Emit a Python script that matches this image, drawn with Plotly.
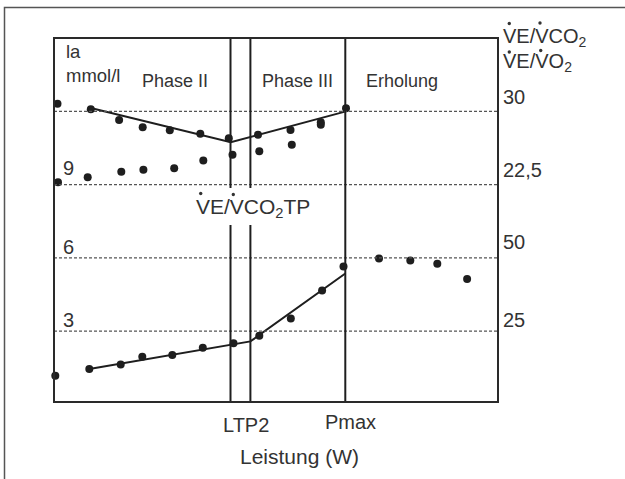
import plotly.graph_objects as go

# ---- data (x: Leistung, arbitrary W units; y: la mmol/l or VE/VCO2 scale) ----
la_x = [1.3, 35.3, 66.7, 88.3, 118.3, 148.8, 179.5, 205.3, 236.8, 268.1, 289.5, 325, 356.3, 383.3, 413.1]
la_y = [1.17, 1.45, 1.64, 1.95, 2.02, 2.32, 2.50, 2.81, 3.52, 4.66, 5.65, 5.97, 5.89, 5.76, 5.13]
la_fit_x = [35.3, 196.4, 291.3]
la_fit_y = [1.45, 2.58, 5.36]

vco2_x = [3.5, 36.8, 65.1, 88.7, 115.8, 146.3, 174.8, 204, 236.5, 266.8, 292]
vco2_y = [30.78, 30.20, 29.12, 28.36, 28.07, 27.69, 27.24, 27.60, 28.09, 28.89, 30.30]
vco2_fit_x = [36.8, 176.8, 292]
vco2_fit_y = [30.34, 26.83, 29.99]

vo2_x = [4, 33.7, 67.3, 89.4, 120.2, 149.3, 178.5, 205.3, 237.8, 266.8]
vo2_y = [22.73, 23.24, 23.82, 24.01, 24.17, 24.96, 25.56, 25.90, 26.57, 28.61]

grid_la = [3, 6, 9, 12]
left_labels = ["3", "6", "9"]
right_labels = ["30", "22,5", "50", "25"]
thresh_x = [176.5, 196.4, 291.3]   # VE/VCO2TP, LTP2, Pmax

XR = [0, 444]
YR = [0.1, 15.0]
Y2R = [0.25, 37.5]

# pixel helpers for text placement
L, R, T, B = 54, 498, 38, 402
def px(xp):
    return (xp - L) / (R - L)
def py(yp):
    return (B - yp) / (B - T)

INK = "#1e1e1e"
TXT = "#333333"
FONT = "Liberation Sans, Arial, sans-serif"

fig = go.Figure()
mk = dict(color=INK, size=8)
fig.add_trace(go.Scatter(x=la_fit_x, y=la_fit_y, mode="lines", line=dict(color=INK, width=2), cliponaxis=False))
fig.add_trace(go.Scatter(x=la_x, y=la_y, mode="markers", marker=mk, cliponaxis=False))
fig.add_trace(go.Scatter(x=vco2_fit_x, y=vco2_fit_y, mode="lines", line=dict(color=INK, width=2), yaxis="y2", cliponaxis=False))
fig.add_trace(go.Scatter(x=vco2_x, y=vco2_y, mode="markers", marker=mk, yaxis="y2", cliponaxis=False))
fig.add_trace(go.Scatter(x=vo2_x, y=vo2_y, mode="markers", marker=mk, yaxis="y2", cliponaxis=False))

shapes = []
# outer border
shapes.append(dict(type="rect", xref="paper", yref="paper", x0=px(4.5), x1=px(700), y0=py(7.5), y1=py(700),
                   line=dict(color="#555555", width=1.5), layer="below"))
# dashed grid lines
for g in grid_la:
    shapes.append(dict(type="line", xref="x", yref="y", x0=XR[0], x1=XR[1], y0=g, y1=g,
                       line=dict(color="#555555", width=1.2, dash="3px,2px")))
# threshold lines (first two interrupted by label)
for tx in thresh_x[:2]:
    shapes.append(dict(type="line", xref="x", yref="paper", x0=tx, x1=tx, y0=py(188), y1=1,
                       line=dict(color=INK, width=2)))
    shapes.append(dict(type="line", xref="x", yref="paper", x0=tx, x1=tx, y0=0, y1=py(225),
                       line=dict(color=INK, width=2)))
shapes.append(dict(type="line", xref="x", yref="paper", x0=thresh_x[2], x1=thresh_x[2], y0=0, y1=1,
                   line=dict(color=INK, width=2)))
# frame
shapes.append(dict(type="rect", xref="paper", yref="paper", x0=0, x1=1, y0=0, y1=1,
                   line=dict(color="#2a2a2a", width=2)))
# dots over V (V-dot notation)
for (dx, dy) in [(509.3, 23.5), (540, 23.0), (509.3, 52.0), (540.7, 50.5), (200.7, 193.5), (233.3, 194.5)]:
    r = 1.7
    shapes.append(dict(type="circle", xref="paper", yref="paper", x0=px(dx - r), x1=px(dx + r),
                       y0=py(dy + r), y1=py(dy - r), fillcolor=TXT, line=dict(width=0)))

ann = []
def add(text, xp, yp, size, xanchor="left"):
    ann.append(dict(text=text, x=px(xp), y=py(yp), xref="paper", yref="paper", showarrow=False,
                    xanchor=xanchor, yanchor="middle", font=dict(family=FONT, size=size, color=TXT)))

add("la", 63.5, 52, 18.5)
add("mmol/l", 63.5, 76, 18.5)
add("Phase II", 175, 81, 18, "center")
add("Phase III", 297, 81, 18, "center")
add("Erholung", 401.7, 81, 18, "center")
for lab, yp in zip(left_labels, [320, 246.7, 168.3]):
    add(lab, 60.5, yp, 20)
for lab, yp in zip(right_labels, [96.7, 170, 242, 320]):
    add(lab, 500.5, yp, 20)
add("VE/VCO<sub>2</sub>", 500.5, 37, 20)
add("VE/VO<sub>2</sub>", 500.5, 62, 20)
add("VE/VCO<sub>2</sub>TP", 253, 208, 21, "center")
add("LTP2", 246.3, 425, 20, "center")
add("Pmax", 350.5, 421.7, 20, "center")
add("Leistung (W)", 299, 456.7, 21, "center")

fig.update_layout(
    width=625, height=479,
    margin=dict(l=L, r=625 - R, t=T, b=479 - B, pad=0),
    paper_bgcolor="white", plot_bgcolor="white",
    showlegend=False,
    xaxis=dict(range=XR, visible=False, fixedrange=True),
    yaxis=dict(range=YR, visible=False, fixedrange=True),
    yaxis2=dict(range=Y2R, visible=False, overlaying="y", side="right", fixedrange=True),
    shapes=shapes, annotations=ann,
)
fig.write_html("out.html", config={"displayModeBar": False},
               post_script="document.body.style.margin='0';document.body.style.padding='0';")
